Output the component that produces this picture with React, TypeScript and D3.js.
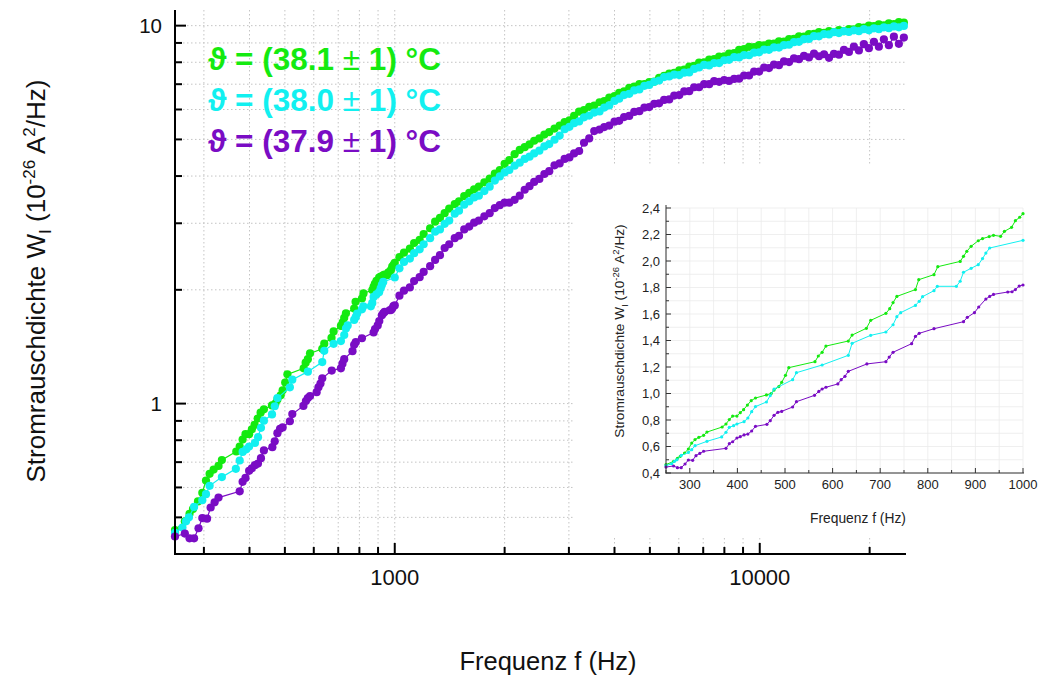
import React from "react";
import * as d3 from "d3";

// ---------- data ----------
const seriesNames = ["38.1", "38.0", "37.9"];
const seriesColors = ["#14ea10", "#12f0f0", "#7a0cc4"];

// low-frequency range (also the inset), 250..1000 Hz
const greenLoF = [250, 266, 274, 280, 289, 297, 304, 311, 319, 329, 336, 368, 376, 383, 390, 399, 406, 413, 421, 429, 438, 461, 471, 477, 487, 493, 501, 508, 563, 570, 578, 586, 633, 641, 671, 680, 712, 720, 727, 735, 774, 781, 813, 821, 868, 875, 882, 891, 906, 915, 929, 938, 953, 961, 976, 984, 993, 1000];
const greenLoV = [0.463, 0.488, 0.511, 0.526, 0.551, 0.581, 0.626, 0.652, 0.669, 0.684, 0.709, 0.747, 0.77, 0.803, 0.83, 0.83, 0.855, 0.878, 0.913, 0.946, 0.966, 0.989, 1.0, 1.026, 1.052, 1.084, 1.137, 1.195, 1.24, 1.283, 1.311, 1.358, 1.396, 1.441, 1.492, 1.552, 1.605, 1.64, 1.686, 1.733, 1.784, 1.859, 1.897, 1.957, 1.997, 2.035, 2.073, 2.111, 2.153, 2.169, 2.184, 2.194, 2.186, 2.224, 2.254, 2.304, 2.33, 2.357];

const cyanLoF = [250, 262, 268, 273, 282, 297, 304, 311, 336, 367, 376, 383, 392, 399, 414, 422, 430, 438, 461, 469, 477, 516, 524, 578, 633, 641, 680, 712, 727, 735, 743, 774, 782, 789, 813, 820, 860, 868, 875, 891, 906, 915, 922, 930, 1000];
const cyanLoV = [0.455, 0.47, 0.488, 0.5, 0.533, 0.555, 0.576, 0.606, 0.639, 0.672, 0.707, 0.745, 0.757, 0.77, 0.787, 0.815, 0.863, 0.901, 0.936, 0.984, 1.034, 1.104, 1.157, 1.215, 1.288, 1.379, 1.439, 1.464, 1.519, 1.58, 1.61, 1.665, 1.696, 1.731, 1.776, 1.809, 1.809, 1.847, 1.915, 1.945, 1.972, 2.018, 2.06, 2.098, 2.156];

const purpleLoF = [250, 266, 274, 282, 290, 297, 306, 313, 321, 329, 376, 383, 390, 399, 406, 414, 422, 430, 438, 462, 469, 477, 485, 493, 516, 524, 562, 571, 578, 586, 611, 618, 626, 633, 672, 712, 719, 727, 766, 774, 782, 813, 875, 883, 898, 907, 922, 930, 938, 968, 977, 984, 992, 1000];
const purpleLoV = [0.445, 0.453, 0.44, 0.44, 0.468, 0.498, 0.496, 0.531, 0.548, 0.564, 0.586, 0.621, 0.636, 0.664, 0.674, 0.687, 0.694, 0.717, 0.752, 0.767, 0.795, 0.835, 0.858, 0.865, 0.898, 0.938, 0.986, 1.016, 1.034, 1.047, 1.072, 1.104, 1.13, 1.167, 1.223, 1.24, 1.275, 1.311, 1.376, 1.431, 1.454, 1.489, 1.542, 1.575, 1.61, 1.653, 1.713, 1.733, 1.748, 1.766, 1.768, 1.784, 1.811, 1.819];

// high-frequency range (main plot only)
const hiF = [1030, 1060, 1100, 1130, 1170, 1200, 1250, 1290, 1330, 1370, 1410, 1460, 1500, 1550, 1600, 1650, 1700, 1760, 1820, 1880, 1940, 2000, 2060, 2130, 2200, 2270, 2340, 2410, 2490, 2570, 2650, 2740, 2830, 2920, 3010, 3100, 3200, 3300, 3410, 3520, 3640, 3750, 3870, 4000, 4120, 4250, 4390, 4530, 4680, 4830, 4980, 5140, 5300, 5470, 5650, 5830, 6020, 6210, 6410, 6610, 6820, 7040, 7270, 7500, 7740, 7990, 8240, 8510, 8780, 9060, 9350, 9650, 9960, 10280, 10600, 10940, 11290, 11650, 12030, 12410, 12810, 13220, 13640, 14080, 14530, 15000, 15480, 15970, 16480, 17010, 17550, 18110, 18690, 19290, 19910, 20550, 21200, 21880, 22580, 23310, 24050, 24820];
const greenHiV = [2.44, 2.51, 2.57, 2.66, 2.71, 2.81, 2.91, 3.03, 3.10, 3.19, 3.28, 3.37, 3.43, 3.54, 3.61, 3.69, 3.75, 3.85, 3.94, 4.06, 4.15, 4.31, 4.41, 4.57, 4.69, 4.77, 4.85, 4.96, 5.03, 5.15, 5.23, 5.34, 5.44, 5.56, 5.62, 5.77, 5.92, 5.98, 6.10, 6.14, 6.27, 6.31, 6.45, 6.51, 6.64, 6.70, 6.85, 6.90, 7.00, 7.00, 7.09, 7.11, 7.28, 7.36, 7.47, 7.50, 7.62, 7.65, 7.79, 7.83, 7.98, 8.00, 8.13, 8.15, 8.28, 8.30, 8.43, 8.46, 8.63, 8.67, 8.79, 8.77, 8.88, 8.87, 8.97, 8.96, 9.09, 9.08, 9.21, 9.22, 9.37, 9.36, 9.50, 9.51, 9.62, 9.57, 9.68, 9.62, 9.73, 9.67, 9.79, 9.78, 9.91, 9.88, 10.0, 9.97, 10.08, 10.02, 10.14, 10.09, 10.22, 10.18];
const cyanHiV = [2.28, 2.37, 2.42, 2.50, 2.56, 2.64, 2.74, 2.85, 2.89, 2.99, 3.05, 3.18, 3.24, 3.36, 3.43, 3.51, 3.55, 3.65, 3.75, 3.89, 3.99, 4.09, 4.15, 4.26, 4.34, 4.44, 4.50, 4.59, 4.67, 4.79, 4.86, 4.99, 5.12, 5.32, 5.40, 5.52, 5.58, 5.72, 5.78, 5.89, 5.93, 6.07, 6.15, 6.32, 6.41, 6.55, 6.60, 6.74, 6.78, 6.93, 6.97, 7.10, 7.16, 7.31, 7.34, 7.42, 7.40, 7.51, 7.52, 7.68, 7.75, 7.87, 7.85, 7.96, 7.96, 8.10, 8.12, 8.25, 8.24, 8.36, 8.35, 8.48, 8.50, 8.64, 8.63, 8.76, 8.75, 8.88, 8.90, 9.04, 9.06, 9.21, 9.22, 9.38, 9.37, 9.50, 9.48, 9.61, 9.56, 9.67, 9.62, 9.72, 9.67, 9.79, 9.72, 9.84, 9.79, 9.90, 9.85, 9.95, 9.90, 9.98];
const purpleHiV = [1.93, 1.99, 2.03, 2.11, 2.16, 2.23, 2.31, 2.40, 2.47, 2.58, 2.64, 2.74, 2.78, 2.89, 2.94, 3.01, 3.05, 3.13, 3.19, 3.29, 3.35, 3.40, 3.40, 3.46, 3.55, 3.68, 3.76, 3.86, 3.93, 4.05, 4.12, 4.27, 4.32, 4.44, 4.48, 4.59, 4.66, 4.90, 5.03, 5.26, 5.31, 5.39, 5.44, 5.57, 5.60, 5.73, 5.77, 5.91, 5.94, 6.07, 6.09, 6.21, 6.23, 6.36, 6.38, 6.53, 6.55, 6.70, 6.71, 6.87, 6.87, 7.00, 7.00, 7.13, 7.10, 7.18, 7.14, 7.23, 7.24, 7.38, 7.38, 7.56, 7.56, 7.75, 7.72, 7.89, 7.86, 8.04, 8.01, 8.19, 8.15, 8.32, 8.24, 8.43, 8.30, 8.40, 8.22, 8.42, 8.38, 8.63, 8.52, 8.80, 8.60, 8.93, 8.72, 9.06, 8.80, 9.20, 8.88, 9.35, 8.95, 9.30];

// axis ticks
const mainXMajor = [1000, 10000];
const mainXMinor = [300, 400, 500, 600, 700, 800, 900, 2000, 3000, 4000, 5000, 6000, 7000, 8000, 9000, 20000];
const mainYMajor = [1, 10];
const mainYMinor = [0.5, 0.6, 0.7, 0.8, 0.9, 2, 3, 4, 5, 6, 7, 8, 9];
const insetXMajor = [300, 400, 500, 600, 700, 800, 900, 1000];
const insetXMinor = [250, 350, 450, 550, 650, 750, 850, 950];
const insetYMajor = [0.4, 0.6, 0.8, 1.0, 1.2, 1.4, 1.6, 1.8, 2.0, 2.2, 2.4];
const insetYMinor = [0.5, 0.7, 0.9, 1.1, 1.3, 1.5, 1.7, 1.9, 2.1, 2.3];

const FONT = "'Liberation Sans', Arial, Helvetica, sans-serif";

type Pt = { f: number; v: number };
const zip = (f: number[], v: number[]): Pt[] => f.map((x, i) => ({ f: x, v: v[i] }));

export default function App() {
  // main scales
  const x = d3.scaleLog().domain([250, 25000]).range([175, 905]);
  const y = d3.scaleLog().domain([0.4, 11]).range([554, 10]);
  // inset scales
  const xi = d3.scaleLinear().domain([250, 1000]).range([666, 1023]);
  const yi = d3.scaleLinear().domain([0.4, 2.4]).range([473, 208]);

  const lowSets = [zip(greenLoF, greenLoV), zip(cyanLoF, cyanLoV), zip(purpleLoF, purpleLoV)];
  const hiVals = [greenHiV, cyanHiV, purpleHiV];
  const mainSets = lowSets.map((lo, k) => lo.concat(zip(hiF, hiVals[k])));

  const lineMain = d3.line<Pt>().x((d) => x(d.f)).y((d) => y(d.v));
  const lineInset = d3.line<Pt>().x((d) => xi(d.f)).y((d) => yi(d.v));

  const gridColor = "#c4c4c4";
  const allX = [...mainXMinor, ...mainXMajor];
  const allY = [...mainYMinor, ...mainYMajor];

  return (
    <svg width={1038} height={680} style={{ position: "absolute", left: 0, top: 0, background: "#fff" }} fontFamily={FONT}>
      <rect x={0} y={0} width={1038} height={680} fill="#fff" />
      {/* main grid */}
      <g>
        {allX.map((t) => (
          <line key={"gx" + t} x1={x(t)} x2={x(t)} y1={y.range()[1]} y2={y.range()[0]} stroke={gridColor} strokeWidth={1} strokeDasharray="1.5,2.5" />
        ))}
        {allY.map((t) => (
          <line key={"gy" + t} x1={x.range()[0]} x2={x.range()[1]} y1={y(t)} y2={y(t)} stroke={gridColor} strokeWidth={1} strokeDasharray="1.5,2.5" />
        ))}
      </g>

      {/* main data */}
      {mainSets.map((s, k) => (
        <g key={"ms" + k}>
          <path d={lineMain(s) || ""} fill="none" stroke={seriesColors[k]} strokeWidth={1.2} />
          {s.map((d, i) => (
            <circle key={i} cx={x(d.f)} cy={y(d.v)} r={4.1} fill={seriesColors[k]} />
          ))}
        </g>
      ))}

      {/* main axes */}
      <g stroke="#000" strokeWidth={2}>
        <line x1={175} x2={175} y1={y.range()[1]} y2={555} />
        <line x1={174} x2={906} y1={554} y2={554} />
        {mainXMajor.map((t) => (
          <line key={"xM" + t} x1={x(t)} x2={x(t)} y1={554} y2={543} />
        ))}
        {mainXMinor.map((t) => (
          <line key={"xm" + t} x1={x(t)} x2={x(t)} y1={554} y2={547} />
        ))}
        {mainYMajor.map((t) => (
          <line key={"yM" + t} x1={175} x2={186} y1={y(t)} y2={y(t)} />
        ))}
        {mainYMinor.map((t) => (
          <line key={"ym" + t} x1={175} x2={182} y1={y(t)} y2={y(t)} />
        ))}
      </g>
      {mainXMajor.map((t) => (
        <text key={"xl" + t} x={x(t)} y={585} textAnchor="middle" fontSize={22} fill="#111">
          {t}
        </text>
      ))}
      {mainYMajor.map((t) => (
        <text key={"yl" + t} x={162} y={y(t) + 7} textAnchor="end" fontSize={20.5} fill="#111">
          {t}
        </text>
      ))}
      <text x={548} y={670} textAnchor="middle" fontSize={25.5} fill="#111">
        Frequenz f (Hz)
      </text>
      <text transform="translate(45,281) rotate(-90)" textAnchor="middle" fontSize={26} fill="#111">
        Stromrauschdichte W<tspan dy={6} fontSize={17}>I</tspan>
        <tspan dy={-6}> (10</tspan>
        <tspan dy={-10} fontSize={17}>-26</tspan>
        <tspan dy={10}> A</tspan>
        <tspan dy={-10} fontSize={17}>2</tspan>
        <tspan dy={10}>/Hz)</tspan>
      </text>

      {/* legend */}
      {seriesNames.map((n, k) => (
        <text key={"lg" + k} x={208} y={70 + k * 41} fontSize={31.5} fontWeight="bold" fill={seriesColors[k]}>
          ϑ = ({n} <tspan fontWeight="normal">±</tspan> 1) °C
        </text>
      ))}

      {/* inset */}
      <rect x={573} y={165} width={465} height={371} fill="#fff" />
      <g stroke="#ebebeb" strokeWidth={0.8}>
        {[...insetXMajor, ...insetXMinor].map((t) => (
          <line key={"igx" + t} x1={xi(t)} x2={xi(t)} y1={yi(0.4)} y2={yi(2.4)} />
        ))}
        {[...insetYMajor, ...insetYMinor].map((t) => (
          <line key={"igy" + t} x1={xi(250)} x2={xi(1000)} y1={yi(t)} y2={yi(t)} />
        ))}
      </g>
      {lowSets.map((s, k) => (
        <g key={"is" + k}>
          <path d={lineInset(s) || ""} fill="none" stroke={seriesColors[k]} strokeWidth={1} />
          {s.map((d, i) => (
            <circle key={i} cx={xi(d.f)} cy={yi(d.v)} r={1.6} fill={seriesColors[k]} />
          ))}
        </g>
      ))}
      <g stroke="#333" strokeWidth={1}>
        <line x1={666} x2={666} y1={yi(2.4) - 3} y2={473.5} />
        <line x1={665.5} x2={1024} y1={473} y2={473} />
        {insetXMajor.map((t) => (
          <line key={"ixM" + t} x1={xi(t)} x2={xi(t)} y1={473} y2={468} />
        ))}
        {insetXMinor.map((t) => (
          <line key={"ixm" + t} x1={xi(t)} x2={xi(t)} y1={473} y2={470} />
        ))}
        {insetYMajor.map((t) => (
          <line key={"iyM" + t} x1={666} x2={671} y1={yi(t)} y2={yi(t)} />
        ))}
        {insetYMinor.map((t) => (
          <line key={"iym" + t} x1={666} x2={669} y1={yi(t)} y2={yi(t)} />
        ))}
      </g>
      {insetXMajor.map((t) => (
        <text key={"ixl" + t} x={xi(t)} y={489} textAnchor="middle" fontSize={13} fill="#222">
          {t}
        </text>
      ))}
      {insetYMajor.map((t) => (
        <text key={"iyl" + t} x={660} y={yi(t) + 4.5} textAnchor="end" fontSize={13} fill="#222">
          {t.toFixed(1).replace(".", ",")}
        </text>
      ))}
      <text x={858} y={523} textAnchor="middle" fontSize={13.8} fill="#222">
        Frequenz f (Hz)
      </text>
      <text transform="translate(624,331) rotate(-90)" textAnchor="middle" fontSize={13.7} fill="#222">
        Stromrauschdichte W<tspan dy={3.5} fontSize={9.5}>I</tspan>
        <tspan dy={-3.5}> (10</tspan>
        <tspan dy={-5.5} fontSize={9.5}>-26</tspan>
        <tspan dy={5.5}> A</tspan>
        <tspan dy={-5.5} fontSize={9.5}>2</tspan>
        <tspan dy={5.5}>/Hz)</tspan>
      </text>
    </svg>
  );
}
